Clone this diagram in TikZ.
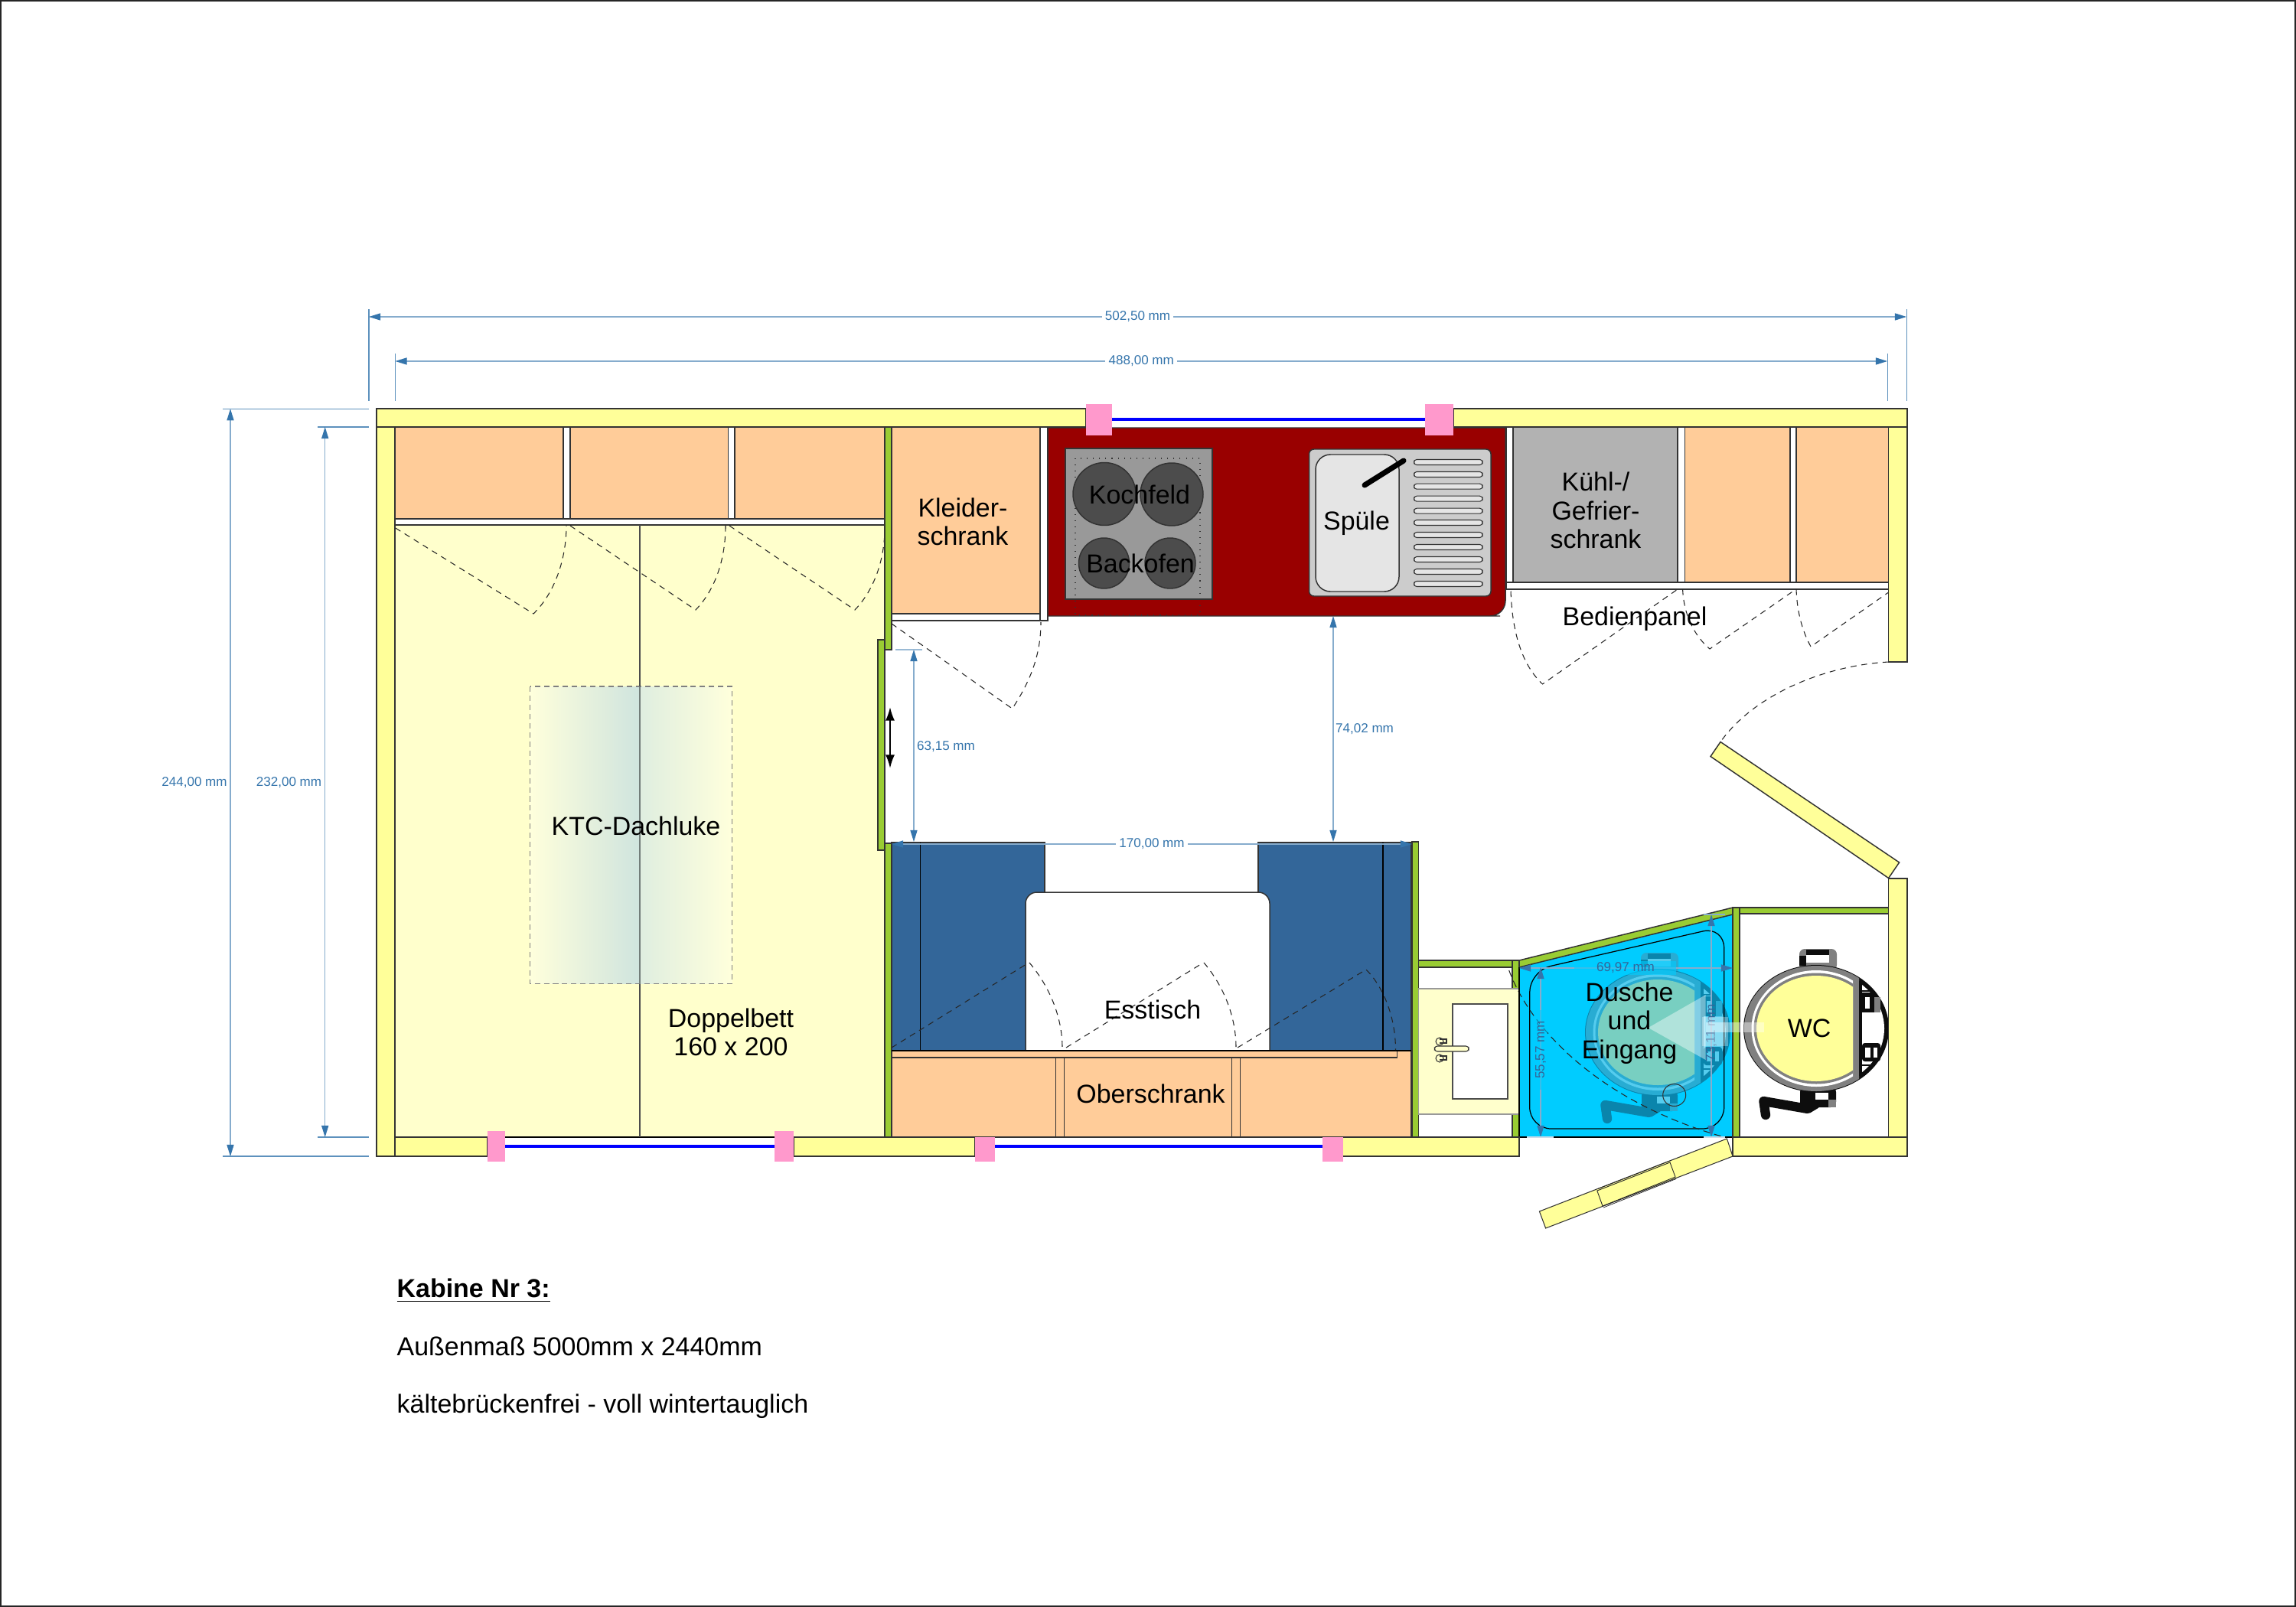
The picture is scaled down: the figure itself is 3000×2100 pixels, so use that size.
\documentclass[tikz,border=0pt]{standalone}
\usepackage{fontspec}
\setmainfont{Liberation Sans}
\usetikzlibrary{arrows.meta}
\definecolor{wallc}{HTML}{FFFF99}
\definecolor{cabc}{HTML}{FFCC99}
\definecolor{greenc}{HTML}{99CC33}
\definecolor{bedc}{HTML}{FFFFCC}
\definecolor{redc}{HTML}{990000}
\definecolor{benchc}{HTML}{336699}
\definecolor{pinkc}{HTML}{FF99CC}
\definecolor{dimc}{HTML}{3575AC}
\definecolor{showerc}{HTML}{00CCFF}
\definecolor{gseat}{HTML}{78CFC1}
\definecolor{ggrey}{HTML}{28ACD3}
\definecolor{gblack}{HTML}{0A85AC}
\definecolor{gwhite}{HTML}{55CCEE}
\definecolor{hatchedge}{HTML}{FFFFDC}
\definecolor{hatchl}{HTML}{E8F2E2}
\definecolor{hatchmid}{HTML}{CFE4DE}
\definecolor{hatchr}{HTML}{DFEEE0}
\definecolor{hatchrm}{HTML}{EAF4E4}
\definecolor{wcgrey}{HTML}{808080}
\definecolor{wcblack}{HTML}{0D0D0D}
\tikzset{
 part/.style={draw=black!80,line width=.42pt},
 wall/.style={part,fill=wallc},
 cab/.style={part,fill=cabc},
 gwall/.style={part,fill=greenc},
 gap/.style={part,fill=white},
 glass/.style={draw=blue,line width=1.15pt},
 swing/.style={draw=black!85,line width=.3pt,dash pattern=on 2.2pt off 1.8pt},
 lbl/.style={font=\fontsize{9.65}{10.7}\selectfont,align=center,inner sep=0pt,text=black},
 para/.style={font=\fontsize{9.65}{10.7}\selectfont,anchor=base west,inner sep=0pt,text=black},
 dimtxt/.style={font=\fontsize{4.85}{5.8}\selectfont,text=dimc,inner sep=1.2pt},
 dimarrow/.style={draw=dimc!60,line width=.32pt,{Triangle[length=4.3pt,width=2.6pt,color=dimc]}-{Triangle[length=4.3pt,width=2.6pt,color=dimc]}},
 dimext/.style={draw=dimc!80,line width=.3pt},
 slot/.style={draw=black!80,line width=.3pt,fill=black!10,rounded corners=1pt},
}
% toilet: colours seat, grey, black, white
\newcommand\toilet[4]{%
 \fill[#2,rounded corners=2pt] (2351,1240) rectangle (2400,1268);
 \fill[#3] (2360,1241) rectangle (2390,1248);
 \fill[#3] (2351,1249) rectangle (2360,1262);
 \fill[#4] (2360,1248) rectangle (2390,1258);
 \fill[#3,rounded corners=2pt] (2352,1420) rectangle (2399,1447);
 \fill[#4] (2372,1428) rectangle (2389,1437);
 \fill[#2] (2389,1437) rectangle (2399,1447);
 \draw[#3,line width=3.5pt,line cap=round,line join=round] (2307,1457) -- (2304.4,1439) -- (2362,1449) -- (2372,1443);
 \fill[#3] (2373,1344) circle [x radius=95,y radius=83];
 \fill[#4] (2371,1344) circle [x radius=91,y radius=78];
 \begin{scope}
  \clip (2270,1250) rectangle (2429,1440);
  \fill[#2] (2373,1344) circle [x radius=94,y radius=82];
  \clip (2270,1250) rectangle (2421,1440);
  \fill[#4] (2373,1344) circle [x radius=84.5,y radius=76];
  \fill[#2] (2373,1344) circle [x radius=81.5,y radius=72.5];
  \fill[#1] (2373,1344) circle [x radius=78,y radius=69];
 \end{scope}
 \fill[#3] (2429,1282) rectangle (2433,1406);
 \fill[#3] (2433,1297) rectangle (2449,1323);
 \fill[#4] (2437,1303) rectangle (2443,1318);
 \fill[#2] (2449,1303) rectangle (2457,1323);
 \fill[#3,rounded corners=1pt] (2433,1363) rectangle (2457,1387);
 \fill[#4] (2437,1369) rectangle (2444,1382);
 \fill[#4] (2448,1369) rectangle (2453,1382);
 \draw[#3,line width=.6pt] (2433,1295) -- (2449,1295);
 \draw[#3,line width=.6pt] (2433,1392) -- (2449,1392);
}
\begin{document}
\begin{tikzpicture}[x=0.01cm,y=-0.01cm]
\useasboundingbox (0,0) rectangle (3000,2100);
\fill[white] (0,0) rectangle (3000,2100);
\draw[black!85,line width=.6pt] (1,1) rectangle (2999,2099);

% ---------- bed and cupboards, left
\fill[bedc] (516,686) rectangle (1156,1486);
\foreach \a/\b in {516/736,745/951.5,960/1156}{\draw[cab] (\a,558) rectangle (\b,678);}
\draw[gap] (736,558) rectangle (745,678);
\draw[gap] (951.5,558) rectangle (960,678);
\draw[gap] (516,678) rectangle (1156,686);
\draw[black,line width=.42pt] (660,1486) -- (1012,1486);
% roof hatch
\shade[left color=hatchedge,middle color=hatchl,right color=hatchmid] (692.5,897) rectangle (836,1285.5);
\shade[left color=hatchr,middle color=hatchrm,right color=hatchedge] (836,897) rectangle (956.5,1285.5);
\draw[black!50,line width=.3pt,dash pattern=on 2pt off 1.4pt] (692.5,897) rectangle (956.5,1285.5);
\draw[black!70,line width=.35pt] (836,686) -- (836,897);
\draw[black!45!hatchmid,line width=.4pt] (836,897) -- (836,1285.5);
\draw[black!70,line width=.35pt] (836,1285.5) -- (836,1486);
\draw[swing] (516.7,690) -- (697,802) .. controls (725,775) and (740,730) .. (740,687);
\draw[swing] (745,687) -- (909,797) .. controls (935,770) and (948,730) .. (948,687);
\draw[swing] (953,687) -- (1117,797) .. controls (1143,770) and (1156,730) .. (1156,690);

% ---------- green partitions
\draw[gwall] (1156,558) rectangle (1165,849);
\draw[gwall] (1147,836) rectangle (1156,1111);
\draw[gwall] (1156,1102) rectangle (1165,1486);

% ---------- wardrobe
\draw[cab] (1165,558) rectangle (1359,802);
\draw[gap] (1165,802) rectangle (1359,811);
\draw[gap] (1359,558) rectangle (1369,811);
\draw[swing] (1165,815) -- (1322.6,926) .. controls (1350,885) and (1360,850) .. (1360,813);

% ---------- kitchen block
\filldraw[part,fill=redc,rounded corners=0pt] (1369,559) -- (1967,559) -- (1967,780) [rounded corners=5.7pt] -- (1967,805) -- (1940,805) [rounded corners=0pt] -- (1369,805) -- cycle;
\draw[part,fill=black!40] (1392,586) rectangle (1584,783);
\draw[black!80,line width=.3pt,dotted] (1405,599) rectangle (1568,804);
\foreach \cx/\cy/\r in {1443/645.5/41,1531/646/41,1442.5/736/33,1529/736/33}{
 \draw[part,fill=black!70] (\cx,\cy) circle [x radius=\r,y radius=\r];}
\draw[part,fill=black!20,rounded corners=1.8pt] (1710.5,587) rectangle (1948,779);
\draw[part,fill=black!10,rounded corners=5.5pt] (1719,594) rectangle (1828,773);
\draw[black,line width=2pt,line cap=round] (1783,634) -- (1834,602);
\foreach \sy in {604,620,635.7,651.7,667.7,683,699,715,731,747,763}{
 \draw[slot] (1847.6,\sy-3.5) rectangle (1937,\sy+3.5);}

% ---------- fridge and cupboards, right
\draw[gap] (1968,558) rectangle (1977,761);
\draw[part,fill=black!30] (1977,558) rectangle (2192,761);
\draw[gap] (2192,558) rectangle (2201.6,761);
\draw[cab] (2201.6,558) rectangle (2339,761);
\draw[gap] (2339,558) rectangle (2347,761);
\draw[cab] (2347,558) rectangle (2467.6,761);
\draw[gap] (1968,761) rectangle (2467.6,770);
\draw[swing] (1974,772.5) .. controls (1976,830) and (1990,870) .. (2015.5,894) -- (2192,770);
\draw[swing] (2198.6,770) .. controls (2200,805) and (2215,832) .. (2234,848) -- (2346.6,770);
\draw[swing] (2347,770) .. controls (2348,800) and (2355,825) .. (2366,845) -- (2467.6,774);

% ---------- dinette
\draw[part,fill=benchc] (1165,1101) rectangle (1365,1373);
\draw[part,fill=benchc] (1644,1101) rectangle (1844,1373);
\draw[black,line width=.3pt] (1202.5,1101) -- (1202.5,1373);
\draw[black,line width=.3pt] (1807,1101) -- (1807,1373);
\draw[part,fill=white,rounded corners=4.2pt] (1340,1373) -- (1340,1166) -- (1659,1166) -- (1659,1373);
\draw[cab] (1165,1373) rectangle (1844,1486);
\draw[cab] (1165,1373) rectangle (1825.4,1382);
\draw[cab] (1379.5,1382) rectangle (1390.6,1486);
\draw[cab] (1609.7,1382) rectangle (1620.4,1486);
\draw[black,line width=.5pt] (1165,1373) -- (1844,1373);
\draw[swing] (1165,1369) -- (1341,1260);
\draw[swing] (1345,1258) .. controls (1372,1290) and (1388,1330) .. (1388,1369);
\draw[swing] (1393,1369) -- (1569,1260);
\draw[swing] (1573,1258) .. controls (1600,1290) and (1615,1330) .. (1615,1369);
\draw[swing] (1617,1369) -- (1785,1267) .. controls (1808,1290) and (1823.5,1330) .. (1823.5,1372);

% ---------- wash basin
\draw[gwall] (1845,1100) rectangle (1853.5,1486);
\draw[gwall] (1853.5,1255) rectangle (1976,1264);
\draw[gwall] (1976,1255) rectangle (1985,1292);
\draw[gwall] (1976,1456) rectangle (1985,1486);
\draw[part,fill=bedc,draw=black!40] (1853.5,1292) rectangle (1985,1456);
\draw[black!70,fill=white,line width=.35pt] (1898,1312) rectangle (1970,1436);
\draw[black!80,fill=bedc,line width=.3pt,rounded corners=1pt] (1874.5,1367) rectangle (1919,1374);
\draw[black!80,fill=bedc,line width=.3pt] (1881,1361) circle [x radius=5,y radius=5];
\draw[black!80,fill=bedc,line width=.3pt] (1881,1383) circle [x radius=5,y radius=5];
\draw[black!80,line width=.3pt] (1881,1358) -- (1890,1358) -- (1890,1363) -- (1881,1363);
\draw[black!80,line width=.3pt] (1881,1380) -- (1890,1380) -- (1890,1385) -- (1881,1385);

% ---------- shower
\fill[showerc] (1985,1264) -- (2264,1195) -- (2264,1486) -- (1985,1486) -- cycle;
\begin{scope}[shift={(-207,5)}]
 \toilet{gseat}{ggrey}{gblack}{gwhite}
\end{scope}
\draw[black!80,line width=.3pt] (2187.7,1431) circle [x radius=15,y radius=14.5];
\draw[black,line width=.35pt,rounded corners=8pt] (1998.7,1268.7) -- (2252.7,1210.6) -- (2252.7,1475) -- (1998.7,1475) -- cycle;
\draw[swing,dash pattern=on 2.6pt off 1.6pt] (1971.7,1268) .. controls (2000,1345) and (2090,1440) .. (2253,1486);
\draw[part,fill=greenc] (1985,1255) -- (2264,1186) -- (2264,1195) -- (1985,1264) -- cycle;
\draw[gwall] (2264,1186) rectangle (2273,1486);
\draw[black,line width=.42pt] (1985,1264) -- (1985,1486) -- (2264,1486);

% ---------- WC room
\draw[gwall] (2273,1186) rectangle (2467.6,1194);
\begin{scope}
 \toilet{wallc}{wcgrey}{wcblack}{white}
\end{scope}

% ---------- outer walls
\draw[wall] (492,534) -- (1419,534) -- (1419,558) -- (492,558) -- cycle;
\draw[wall] (1899,534) rectangle (2492,558);
\draw[wall] (492,558) rectangle (516,1511);
\draw[wall] (2467.6,558) rectangle (2492,865);
\draw[wall] (2467.6,1148) rectangle (2492,1486);
\draw[wall] (516,1486) rectangle (637,1511);
\draw[wall] (1037,1486) rectangle (1274,1511);
\draw[wall] (1754,1486) rectangle (1985,1511);
\draw[wall] (2264,1486) rectangle (2492,1511);
\draw[wall] (2248,969.5) -- (2481.6,1127) -- (2467.6,1147.5) -- (2235,988.5) -- cycle;
\draw[wall,line width=.3pt] (2256.4,1488) -- (2264,1511) -- (2019.6,1605) -- (2011.4,1583) -- cycle;
\draw[black!85,line width=.25pt] (2086.8,1556) -- (2182,1519) -- (2189,1538) -- (2094,1576) -- cycle;
\draw[black!85,line width=.2pt] (2088,1553.5) -- (2183,1516.5);
\draw[black!85,line width=.2pt] (2095,1578) -- (2190,1540.5);
\draw[swing] (2467.6,865) .. controls (2380,870) and (2290,910) .. (2248,969.5);

% ---------- windows
\draw[glass] (1453,548) -- (1862,548);
\draw[glass] (660,1498) -- (1012,1498);
\draw[glass] (1299.5,1498) -- (1728,1498);
\fill[pinkc] (1419,528) rectangle (1453,569);
\fill[pinkc] (1862,528) rectangle (1899,569);
\fill[pinkc] (637,1478) rectangle (660,1518);
\fill[pinkc] (1012.4,1478) rectangle (1036.5,1518);
\fill[pinkc] (1274,1486) rectangle (1299.5,1518);
\fill[pinkc] (1728,1486) rectangle (1754.6,1518);

% ---------- sliding door arrow
\draw[black,line width=.6pt,{Latex[length=5pt,width=3.4pt]}-{Latex[length=5pt,width=3.4pt]}] (1163,924) -- (1163,1004);

% ---------- dimensions
\draw[dimext] (482,404) -- (482,524);
\draw[dimext] (2491,404) -- (2491,524);
\draw[dimext] (516.5,462) -- (516.5,524);
\draw[dimext] (2466,462) -- (2466,524);
\draw[dimarrow] (482,414) -- node[dimtxt,fill=white] (d1) {502,50 mm} (2491,414);
\draw[dimarrow] (516.5,472) -- node[dimtxt,fill=white] (d2) {488,00 mm} (2466,472);
\draw[dimext] (291,534.3) -- (482,534.3);
\draw[dimext] (291,1511) -- (482,1511);
\draw[dimext] (415,558) -- (482,558);
\draw[dimext] (415,1486) -- (482,1486);
\draw[dimarrow] (301,534.3) -- (301,1511);
\draw[dimarrow] (424.7,558) -- (424.7,1486);
\node[dimtxt] (d3) at (254,1022.5) {244,00 mm};
\node[dimtxt] (d4) at (377.5,1022.5) {232,00 mm};
\draw[dimext,draw=dimc!50] (1170,849) -- (1205,849);
\draw[dimarrow] (1194,849) -- (1194,1100);
\node[dimtxt] (d5) at (1236,975.5) {63,15 mm};
\draw[dimarrow] (1742,805) -- (1742,1100);
\node[dimtxt] (d6) at (1783,952.5) {74,02 mm};
\draw[dimarrow] (1165,1103) -- node[dimtxt,fill=white] (d7) {170,00 mm} (1845,1103);
% shower dimensions
\draw[dimarrow] (1985,1265) -- (2264,1265);
\draw[dimarrow] (2013,1264) -- (2013,1486);
\draw[dimarrow] (2236,1195) -- (2236,1486);
\draw[dimext,draw=dimc!60] (2226,1195) -- (2254,1195);
\draw[dimext,draw=dimc!25] (1995,1486) -- (2030,1486);
\draw[dimext,draw=dimc!25] (2226,1486) -- (2254,1486);
\fill[showerc,opacity=.6] (2057,1256) rectangle (2190,1274);
\fill[showerc,opacity=.6] (2004,1320) rectangle (2022,1424);
\node[dimtxt,text=benchc] (d8) at (2124,1265) {69,97 mm};
\node[dimtxt,text=benchc,rotate=90] (d9) at (2013,1372) {55,57 mm};
\node[dimtxt,text=benchc,rotate=90] (d10) at (2236,1350) {73,11 mm};

% ---------- translucent arrow
\fill[white,opacity=.42] (2153.6,1343) -- (2228.6,1300) -- (2228.6,1385) -- cycle;
\fill[white,opacity=.42] (2228.6,1336) rectangle (2305,1349);
\fill[white,opacity=.3] (2224,1329) rectangle (2258,1367);

% ---------- labels
\node[lbl] (kleider) at (1258,682) {Kleider-\\schrank};
\node[lbl] (kochfeld) at (1489,646) {Kochfeld};
\node[lbl] (backofen) at (1490,736) {Backofen};
\node[lbl] (spuele) at (1772.5,684) {Spüle};
\node[lbl] (kuehl) at (2085,667) {Kühl-/\\Gefrier-\\schrank};
\node[lbl] (panel) at (2136,809) {Bedienpanel};
\node[lbl] (dach) at (831,1079) {KTC-Dachluke};
\node[lbl] (bett) at (955,1349) {Doppelbett\\160 x 200};
\node[lbl] (tisch) at (1506,1319) {Esstisch};
\node[lbl] (ober) at (1503.5,1429) {Oberschrank};
\node[lbl] (dusche) at (2129,1337) {Dusche\\und\\Eingang};
\node[lbl] (wc) at (2364,1344) {WC};
\node[para,font=\fontsize{9.65}{10.7}\selectfont\bfseries] (titel) at (518,1695) {\underline{Kabine Nr 3:}};
\node[para] (mass) at (518,1771) {Außenmaß 5000mm x 2440mm};
\node[para] (kaelte) at (518,1846) {kältebrückenfrei - voll wintertauglich};
\end{tikzpicture}
\end{document}
